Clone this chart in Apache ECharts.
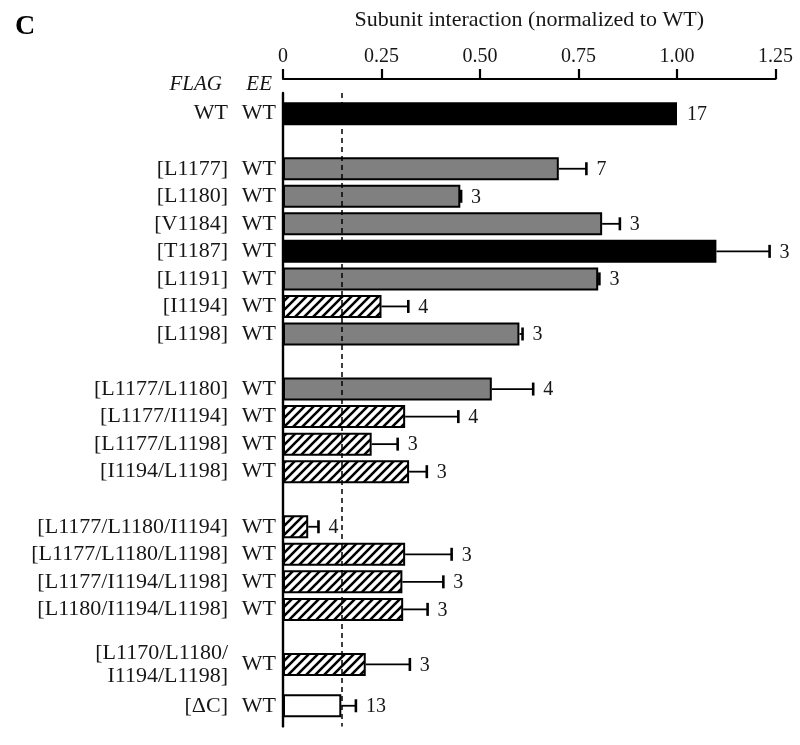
<!DOCTYPE html>
<html>
<head>
<meta charset="utf-8">
<script src="https://cdn.jsdelivr.net/npm/echarts@6/dist/echarts.min.js"></script>
<style>
  html, body { margin: 0; padding: 0; background: #fff; }
  #chart { width: 800px; height: 745px; }
</style>
</head>
<body>
<div id="chart"></div>
<script>
// rows, top to bottom
const flagLabels = [
  'WT',
  '[L1177]', '[L1180]', '[V1184]', '[T1187]', '[L1191]', '[I1194]', '[L1198]',
  '[L1177/L1180]', '[L1177/I1194]', '[L1177/L1198]', '[I1194/L1198]',
  '[L1177/L1180/I1194]', '[L1177/L1180/L1198]', '[L1177/I1194/L1198]', '[L1180/I1194/L1198]',
  '[L1170/L1180/\nI1194/L1198]',
  '[ΔC]'
]
const eeLabels = ['WT', 'WT', 'WT', 'WT', 'WT', 'WT', 'WT', 'WT', 'WT', 'WT', 'WT', 'WT', 'WT', 'WT', 'WT', 'WT', 'WT', 'WT']
const groups = [0, 1, 1, 1, 1, 1, 1, 1, 2, 2, 2, 2, 3, 3, 3, 3, 4, 5]
const values = [1.00, 0.70, 0.45, 0.81, 1.10, 0.80, 0.25, 0.60, 0.53, 0.31, 0.225, 0.32, 0.064, 0.31, 0.303, 0.305, 0.21, 0.148]
const errHigh = [null, 0.77, 0.452, 0.855, 1.235, 0.803, 0.318, 0.608, 0.635, 0.445, 0.291, 0.365, 0.09, 0.428, 0.407, 0.367, 0.322, 0.185]
const counts = ['17', '7', '3', '3', '3', '3', '4', '3', '4', '4', '3', '3', '4', '3', '3', '3', '3', '13']
const fills = ['black', 'gray', 'gray', 'gray', 'black', 'gray', 'hatch', 'gray', 'gray', 'hatch', 'hatch', 'hatch', 'hatch', 'hatch', 'hatch', 'hatch', 'hatch', 'white']
const xTicks = ['0', '0.25', '0.50', '0.75', '1.00', '1.25']
const refLine = values[values.length - 1] // ΔC level

const serif = '"Liberation Serif", "DejaVu Serif", serif'
const ink = '#161616'

function hatch() {
  const c = document.createElement('canvas')
  c.width = 9; c.height = 9
  const g = c.getContext('2d')
  g.fillStyle = '#fff'
  g.fillRect(0, 0, 9, 9)
  g.strokeStyle = '#000'
  g.lineWidth = 2.6
  g.beginPath()
  g.moveTo(-1, 10); g.lineTo(10, -1)
  g.moveTo(-1, 1); g.lineTo(1, -1)
  g.moveTo(8, 10); g.lineTo(10, 8)
  g.stroke()
  return c
}
const fillColor = { black: '#000', gray: '#808080', white: '#fff', hatch: { image: hatch(), repeat: 'repeat' } }

// slot layout: rows 2 units apart, groups separated by a blank band
const slots = []
let pos = 1
groups.forEach((g, i) => {
  if (i > 0) pos += (g === groups[i - 1]) ? 2 : (g === 5 ? 3 : 4)
  slots.push(pos)
})
const nSlots = pos + 2
const flagCats = new Array(nSlots).fill('')
const eeCats = new Array(nSlots).fill('')
slots.forEach((s, i) => { flagCats[s] = flagLabels[i]; eeCats[s] = eeLabels[i] })

const chart = echarts.init(document.getElementById('chart'))
chart.setOption({
  animation: false,
  title: {
    text: 'C', left: 10, top: 8,
    textStyle: { fontFamily: serif, fontWeight: 'bold', fontSize: 28, color: '#000' }
  },
  graphic: [
    { type: 'text', x: 222, y: 84, style: { text: 'FLAG', align: 'right', verticalAlign: 'middle', font: 'italic 21px ' + serif, fill: ink } },
    { type: 'text', x: 272, y: 84, style: { text: 'EE', align: 'right', verticalAlign: 'middle', font: 'italic 21px ' + serif, fill: ink } }
  ],
  grid: { left: 283, right: 24.5, top: 93, height: nSlots * 13.77, outerBoundsMode: 'none' },
  xAxis: {
    type: 'value', position: 'top', offset: 14,
    min: 0, max: 1.25, interval: 0.25,
    name: 'Subunit interaction (normalized to WT)',
    nameLocation: 'middle', nameGap: 48,
    nameTextStyle: { fontFamily: serif, fontSize: 22, color: ink },
    axisLine: { show: true, lineStyle: { color: '#000', width: 2.2 } },
    axisTick: { show: true, length: 10, lineStyle: { color: '#000', width: 2.2 } },
    splitLine: { show: false },
    axisLabel: {
      margin: 12, fontFamily: serif, fontSize: 20, color: ink,
      formatter: v => xTicks[Math.round(v / 0.25)]
    }
  },
  yAxis: [
    {
      type: 'category', inverse: true, data: flagCats,
      axisLine: { show: true, lineStyle: { color: '#000', width: 2.4 } },
      axisTick: { show: false },
      axisLabel: { interval: 0, margin: 55, fontFamily: serif, fontSize: 22, color: ink, lineHeight: 23 }
    },
    {
      type: 'category', inverse: true, data: eeCats, position: 'left',
      axisLine: { show: false }, axisTick: { show: false },
      axisLabel: { interval: 0, margin: 7, fontFamily: serif, fontSize: 22, color: ink }
    }
  ],
  series: [
    {
      type: 'bar', barWidth: 23,
      data: values.map((v, i) => ({
        value: [v, slots[i]],
        itemStyle: { color: fillColor[fills[i]], borderColor: '#000', borderWidth: 2 }
      })),
      encode: { x: 0, y: 1 },
      markLine: {
        silent: true, symbol: 'none', label: { show: false },
        lineStyle: { color: '#000', type: [5, 4], width: 1.5 },
        data: [{ xAxis: refLine }]
      }
    },
    {
      type: 'custom', z: 5,
      data: values.map((v, i) => [v, slots[i], errHigh[i] == null ? -1 : errHigh[i], counts[i]]),
      encode: { x: 0, y: 1 },
      renderItem(params, api) {
        const v = api.value(0), hi = api.value(2)
        const p0 = api.coord([v, api.value(1)])
        const children = []
        let endX = p0[0]
        if (hi >= 0) {
          const p1 = api.coord([hi, api.value(1)])
          endX = Math.max(endX, p1[0])
          children.push({ type: 'line', shape: { x1: p0[0], y1: p0[1], x2: p1[0], y2: p1[1] }, style: { stroke: '#000', lineWidth: 1.8 } })
          children.push({ type: 'line', shape: { x1: p1[0], y1: p1[1] - 6.5, x2: p1[0], y2: p1[1] + 6.5 }, style: { stroke: '#000', lineWidth: 2.6 } })
        }
        children.push({
          type: 'text',
          style: { text: counts[params.dataIndex], x: endX + 10, y: p0[1] + 1, verticalAlign: 'middle', align: 'left', font: '20px ' + serif, fill: ink }
        })
        return { type: 'group', children }
      }
    }
  ]
})
</script>
</body>
</html>
